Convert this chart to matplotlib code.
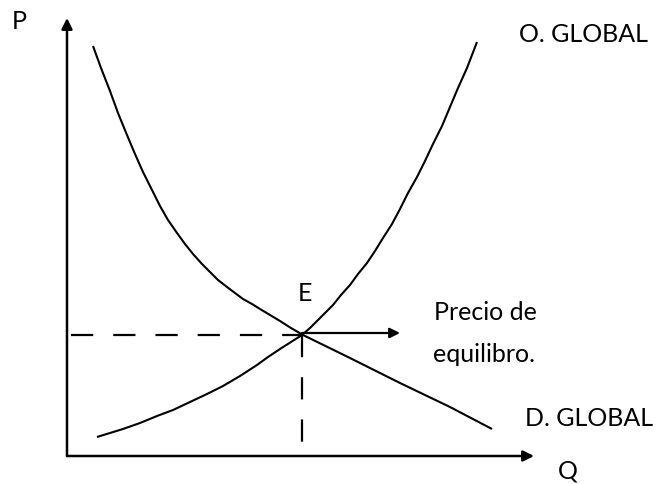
import matplotlib.pyplot as plt

# Curva de demanda global (coordenadas, en píxeles)
demand_x = [93, 101, 110, 118, 127, 135, 143, 152, 160, 168, 177, 185, 193, 202, 210, 218,
            227, 235, 243, 252, 260, 270, 280, 291, 303, 350, 400, 450, 492]
demand_y = [46, 68, 91, 113, 135, 154, 172, 190, 206, 220, 233, 244, 254, 264, 272, 280,
            287, 293, 299, 304, 309, 315, 321, 328, 335, 358, 383, 407, 429]

# Curva de oferta global
supply_x = [97, 110, 123, 140, 157, 173, 190, 207, 223, 240, 257, 268, 280, 291, 302,
            310, 317, 325, 333, 341, 350, 358, 367, 375, 383, 392, 400, 408, 417, 425,
            433, 442, 450, 458, 467, 472, 477]
supply_y = [437, 433, 429, 423, 416, 410, 402, 394, 386, 376, 365, 357, 349, 342, 335,
            328, 321, 313, 305, 295, 285, 274, 263, 251, 238, 224, 209, 193, 177, 161,
            144, 126, 107, 88, 68, 55, 42]

# Punto de equilibrio y ejes
eq_q, eq_p = 302, 335
origin_x, origin_y = 67, 456
axis_top, axis_right = 18, 534
arrow_end = 400

fig = plt.figure(figsize=(6.57, 4.84), dpi=100)
ax = fig.add_axes([0, 0, 1, 1])
ax.set_xlim(0, 657)
ax.set_ylim(484, 0)
ax.axis('off')

ax.plot(demand_x, demand_y, color='black', lw=1.5, solid_capstyle='butt', solid_joinstyle='round')
ax.plot(supply_x, supply_y, color='black', lw=1.5, solid_capstyle='butt', solid_joinstyle='round')

# Líneas discontinuas
ax.plot([origin_x + 4, eq_q], [eq_p, eq_p], color='black', lw=1.6, dashes=(10, 9))
ax.plot([eq_q, eq_q], [eq_p, origin_y], color='black', lw=1.6, dashes=(10, 9))

# Ejes con flechas
arrow = dict(arrowstyle='-|>', color='black', lw=1.8, mutation_scale=16, shrinkA=0, shrinkB=0)
ax.annotate('', xy=(origin_x, axis_top), xytext=(origin_x, origin_y), arrowprops=arrow)
ax.annotate('', xy=(axis_right, origin_y), xytext=(origin_x, origin_y), arrowprops=arrow)
ax.annotate('', xy=(arrow_end, eq_p - 2), xytext=(eq_q, eq_p - 2),
            arrowprops=dict(arrowstyle='-|>', color='black', lw=1.6, mutation_scale=15,
                            shrinkA=0, shrinkB=0))

font = dict(family='Lato', fontsize=18, color='black')
ax.text(12, 29, 'P', ha='left', va='baseline', **font)
ax.text(519, 42, 'O. GLOBAL', ha='left', va='baseline', **font)
ax.text(305, 301, 'E', ha='center', va='baseline', **font)
ax.text(434, 320, 'Precio de', ha='left', va='baseline', **font)
ax.text(433, 362, 'equilibro.', ha='left', va='baseline', **font)
ax.text(525, 426, 'D. GLOBAL', ha='left', va='baseline', **font)
ax.text(558, 478, 'Q', ha='left', va='baseline', **font)

fig.savefig('out.png', dpi=100)
